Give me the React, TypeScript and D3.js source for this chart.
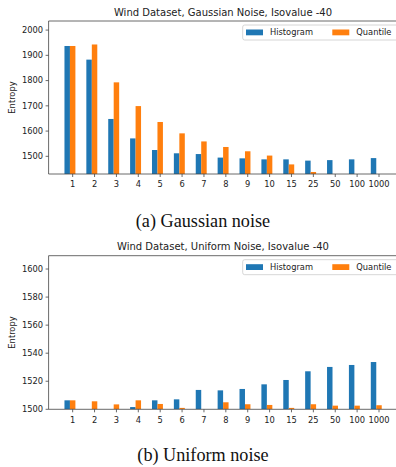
import React from 'react';
import * as d3 from 'd3';

const W = 396, H = 467;

const categories = ['1', '2', '3', '4', '5', '6', '7', '8', '9', '10', '15', '25', '50', '100', '1000'];
const gaussHist = [1937, 1883, 1648, 1571, 1525, 1512, 1509, 1495, 1492, 1488, 1488, 1483, 1485, 1488, 1493];
const gaussQuant = [1937, 1943, 1793, 1699, 1636, 1591, 1559, 1537, 1520, 1503, 1468, 1438, 1420, 1420, 1420];
const uniformHist = [1506.4, 1499, 1499, 1501.6, 1506.4, 1507.1, 1513.8, 1513.5, 1514.5, 1517.8, 1520.9, 1527.1, 1530.2, 1531.6, 1533.7];
const uniformQuant = [1506.4, 1505.7, 1503.5, 1506.4, 1503.8, 1501, 1499, 1505, 1503.6, 1503.1, 1501, 1503.6, 1502.6, 1502.6, 1502.9];
const gaussTicks = [1500, 1600, 1700, 1800, 1900, 2000];
const uniformTicks = [1500, 1520, 1540, 1560, 1580, 1600];
const seriesNames = ['Histogram', 'Quantile'];

const BLUE = '#1f77b4', ORANGE = '#ff7f0e';
const FONT = 'DejaVu Sans';
const barW = 0.25;

// x positions by category index, same for both panels
const x = d3.scaleLinear().domain([-1.1, 14.85]).range([48.6, 397.6]);

type PanelProps = {
    title: string, hist: number[], quant: number[],
    yDomain: [number, number], ticks: number[], top: number, bottom: number,
    caption: string, captionY: number, id: string
}

function Panel({title, hist, quant, yDomain, ticks, top, bottom, caption, captionY, id}: PanelProps) {
    const y = d3.scaleLinear().domain(yDomain).range([bottom, top]);
    const left = x.range()[0];
    const bar = (v: number, i: number, off: number, color: string) => {
        if (v <= yDomain[0]) return null;
        const x0 = x(i + off - barW / 2), x1 = x(i + off + barW / 2);
        return <rect key={color + i} x={x0} y={y(v)} width={x1 - x0} height={bottom - y(v)} fill={color} />
    }
    const legX = 242.7, legY = top + 4;
    return (
        <g>
            <clipPath id={id}><rect x={left} y={top} width={W} height={bottom - top} /></clipPath>
            <g clipPath={`url(#${id})`}>
                {hist.map((v, i) => bar(v, i, -barW, BLUE))}
                {quant.map((v, i) => bar(v, i, 0, ORANGE))}
            </g>
            <line x1={left} x2={W} y1={top} y2={top} stroke="#444" strokeWidth={0.8} />
            <line x1={left} x2={W} y1={bottom} y2={bottom} stroke="#444" strokeWidth={0.8} />
            <line x1={left} x2={left} y1={top} y2={bottom} stroke="#444" strokeWidth={0.8} />
            {ticks.map(t => (
                <g key={t}>
                    <line x1={left - 3} x2={left} y1={y(t)} y2={y(t)} stroke="#444" strokeWidth={0.8} />
                    <text x={left - 5.5} y={y(t)} dy="0.35em" textAnchor="end" fontSize={8.3} fill="#222">{t}</text>
                </g>
            ))}
            {categories.map((c, i) => (
                <g key={c}>
                    <line x1={x(i)} x2={x(i)} y1={bottom} y2={bottom + 3} stroke="#444" strokeWidth={0.8} />
                    <text x={x(i)} y={bottom + 13.3} textAnchor="middle" fontSize={8.3} fill="#222">{c}</text>
                </g>
            ))}
            <text transform={`translate(15,${(top + bottom) / 2}) rotate(-90)`} textAnchor="middle" fontSize={8.3} fill="#222">Entropy</text>
            <text x={223} y={top - 5.5} textAnchor="middle" fontSize={10} fill="#222">{title}</text>
            <rect x={legX} y={legY} width={160} height={15} rx={2} fill="white" stroke="#ccc" strokeWidth={0.8} />
            {seriesNames.map((s, k) => (
                <g key={s} transform={`translate(${legX + 3.3 + k * 86.3},${legY + 7.5})`}>
                    <rect x={0} y={-3} width={17} height={5.8} fill={k === 0 ? BLUE : ORANGE} />
                    <text x={24} y={0} dy="0.35em" fontSize={8.3} fill="#222">{s}</text>
                </g>
            ))}
            <text x={W / 2 + 5} y={captionY} textAnchor="middle" fontSize={18.2} fontFamily="Liberation Serif" fill="#111">{caption}</text>
        </g>
    )
}

export default function App() {
    return (
        <div style={{position: 'absolute', left: 0, top: 0, width: W, height: H, background: 'white'}}>
            <svg width={W} height={H} fontFamily={FONT} style={{display: 'block', overflow: 'hidden'}}>
                <Panel id="c1" title="Wind Dataset, Gaussian Noise, Isovalue -40" hist={gaussHist} quant={gaussQuant}
                    yDomain={[1430, 2036]} ticks={gaussTicks} top={21} bottom={174}
                    caption="(a) Gaussian noise" captionY={227} />
                <Panel id="c2" title="Wind Dataset, Uniform Noise, Isovalue -40" hist={uniformHist} quant={uniformQuant}
                    yDomain={[1500, 1609.5]} ticks={uniformTicks} top={255.7} bottom={409.3}
                    caption="(b) Uniform noise" captionY={461} />
            </svg>
        </div>
    )
}
